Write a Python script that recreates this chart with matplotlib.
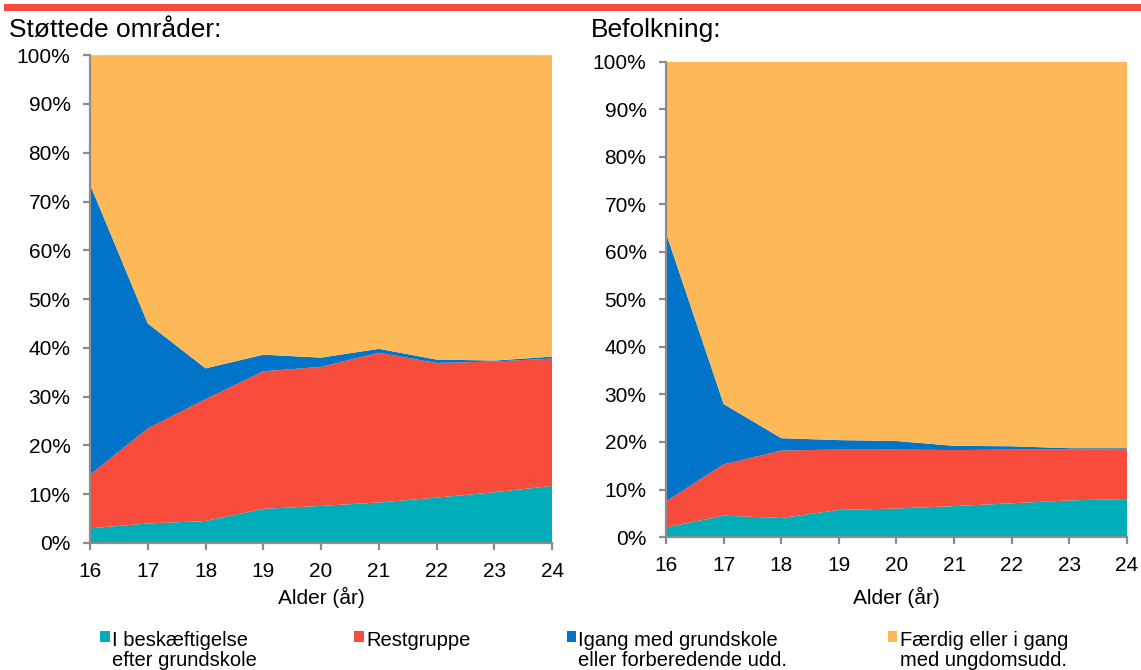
import numpy as np
import matplotlib.pyplot as plt
from matplotlib.patches import Rectangle
from matplotlib.ticker import PercentFormatter

plt.rcParams['font.family'] = ['Liberation Sans', 'DejaVu Sans']

# data (shares in %)
ages = [16, 17, 18, 19, 20, 21, 22, 23, 24]
series_names = ["I beskæftigelse\nefter grundskole", "Restgruppe",
                "Igang med grundskole\neller forberedende udd.",
                "Færdig eller i gang\nmed ungdomsudd."]
colors = ["#00AEB9", "#F74B3B", "#0074C8", "#FDB858"]

# Støttede områder
stoette_beskaeft = [3.0, 4.0, 4.5, 7.0, 7.6, 8.3, 9.3, 10.4, 11.7]
stoette_rest = [11.0, 19.5, 25.0, 28.2, 28.5, 30.7, 27.6, 26.8, 26.1]
stoette_igang = [59.5, 21.5, 6.3, 3.4, 1.9, 0.8, 0.7, 0.2, 0.4]

# Befolkning
befolk_beskaeft = [2.0, 4.5, 4.0, 5.7, 6.0, 6.5, 7.1, 7.7, 8.0]
befolk_rest = [5.5, 10.8, 14.2, 12.7, 12.4, 11.8, 11.3, 10.7, 10.5]
befolk_igang = [56.5, 12.7, 2.6, 2.0, 1.8, 0.9, 0.7, 0.3, 0.2]

panels = [
    ("Støttede områder:", [0.0789, 0.1896, 0.405, 0.728],
     [stoette_beskaeft, stoette_rest, stoette_igang], 0.008, 4),
    ("Befolkning:", [0.5837, 0.1985, 0.404, 0.709],
     [befolk_beskaeft, befolk_rest, befolk_igang], 0.518, 8),
]

fig = plt.figure(figsize=(11.41, 6.70), dpi=100)

# red band across the top
fig.add_artist(Rectangle((0.0035, 0.9836), 0.9965, 0.0105, transform=fig.transFigure,
                         facecolor="#F74B3B", edgecolor="none"))

for title, rect, parts, tx, lpad in panels:
    ax = fig.add_axes(rect)
    parts = [np.array(p) for p in parts]
    rest = 100 - sum(parts)
    ax.stackplot(ages, *parts, rest, colors=colors, linewidth=0)
    ax.set_xlim(16, 24)
    ax.set_ylim(0, 100)
    ax.set_xticks(ages)
    ax.set_yticks(np.arange(0, 101, 10))
    ax.yaxis.set_major_formatter(PercentFormatter(decimals=0))
    for s in ["top", "right"]:
        ax.spines[s].set_visible(False)
    for s in ["left", "bottom"]:
        ax.spines[s].set_color("#8C8C8C")
        ax.spines[s].set_linewidth(1.6)
        ax.spines[s].set_zorder(5)
    ax.tick_params(axis="y", direction="out", length=5, width=1.6, color="#8C8C8C",
                   labelsize=15, pad=9)
    ax.tick_params(axis="x", direction="out", length=5, width=1.6, color="#8C8C8C",
                   labelsize=15, pad=9)
    ax.set_xlabel("Alder (år)", fontsize=15, labelpad=lpad)
    fig.text(tx, 0.955, title, fontsize=19, ha="left", va="center")

# legend, drawn by hand so the marker sits on the first line
leg_x = [0.0875, 0.3105, 0.4965, 0.778]
for x, name, c in zip(leg_x, series_names, colors):
    fig.add_artist(Rectangle((x, 0.042), 0.0085, 0.0165, transform=fig.transFigure,
                             facecolor=c, edgecolor="none"))
    fig.text(x + 0.0105, 0.058, name, fontsize=14.5, ha="left", va="top",
             linespacing=1.05, transform=fig.transFigure)

plt.savefig("out.png", dpi=100)
